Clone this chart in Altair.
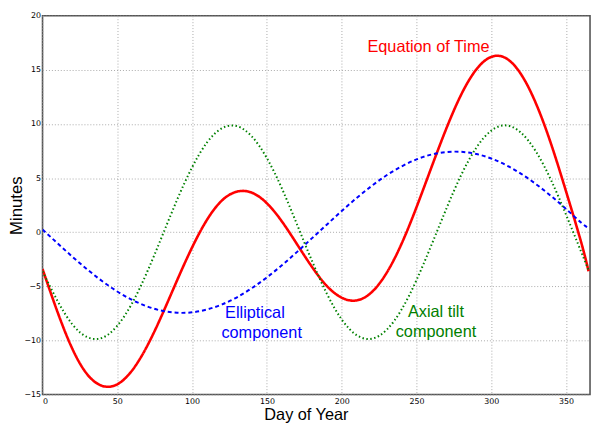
import altair as alt
import pandas as pd

# ---- data ----
days = [0, 10, 20, 30, 40, 50, 60, 70, 80, 90, 100, 110, 120, 130, 140, 150, 160, 170, 180,
        190, 200, 210, 220, 230, 240, 250, 260, 270, 280, 290, 300, 310, 320, 330, 340, 350, 360, 365]

equation_of_time = [-3.4, -7.36, -10.79, -13.15, -14.2, -14.05, -12.75, -10.5, -7.6, -4.43, -1.4, 1.16,
                    2.94, 3.75, 3.65, 2.67, 1.0, -1.08, -3.18, -4.96, -6.05, -6.3, -5.55, -3.76, -1.07,
                    2.31, 6.0, 9.6, 12.75, 15.04, 16.2, 16.06, 14.57, 11.85, 8.14, 3.76, -0.89, -3.6]

elliptical = [0.25, -1.02, -2.27, -3.45, -4.53, -5.48, -6.26, -6.86, -7.26, -7.44, -7.4, -7.14,
              -6.67, -6.01, -5.16, -4.17, -3.05, -1.84, -0.57, 0.7, 1.96, 3.17, 4.27, 5.26, 6.08,
              6.73, 7.18, 7.41, 7.43, 7.23, 6.81, 6.19, 5.39, 4.43, 3.34, 2.15, 0.89, 0.4]

axial_tilt = [-3.6, -6.34, -8.52, -9.7, -9.75, -8.64, -6.53, -3.65, -0.34, 3.01, 6.0, 8.3,
              9.61, 9.8, 8.84, 6.84, 4.05, 0.76, -2.61, -5.66, -8.06, -9.51, -9.84, -9.02, -7.15,
              -4.42, -1.18, 2.19, 5.32, 7.81, 9.39, 9.87, 9.18, 7.42, 4.8, 1.61, -1.78, -3.5]

x_ticks = [0, 50, 100, 150, 200, 250, 300, 350]
y_ticks = [-15, -10, -5, 0, 5, 10, 15, 20]

label_text = ["Equation of Time", "Elliptical", "component", "Axial tilt", "component"]
label_day = [258, 142, 146.5, 263, 263]
label_min = [17.1, -7.5, -9.3, -7.4, -9.2]
label_color = ["#ff0000", "#0000ff", "#0000ff", "#008000", "#008000"]

series = [
    ("Equation of Time", equation_of_time, "#ff0000", 2.6, [1, 0]),
    ("Elliptical component", elliptical, "#0000ff", 2.0, [4, 3]),
    ("Axial tilt component", axial_tilt, "#008000", 2.0, [1.5, 2.5]),
]

PLOT_W = 555
PLOT_H = 384

x_scale = alt.Scale(domain=[0, 366], nice=False, zero=False)
y_scale = alt.Scale(domain=[-15, 20], nice=False, zero=False)

x_axis = alt.Axis(values=x_ticks, title="Day of Year", titleFontSize=16.5, titleFont="Liberation Sans",
                  titleFontWeight="normal", titleColor="black",
                  titleX=267, titleY=25, titleBaseline="alphabetic", titleAlign="center",
                  labelFont="DejaVu Sans", labelFontSize=8, labelColor="black", labelPadding=3,
                  tickSize=0, domain=False, grid=True, gridDash=[1, 2], gridColor="#aaaaaa",
                  gridWidth=1)
y_axis = alt.Axis(values=y_ticks, title="Minutes", titleFontSize=17, titleFont="Liberation Sans",
                  titleFontWeight="normal", titleColor="black",
                  titleX=-34, titleY=PLOT_H / 2, titleAngle=270, titleBaseline="top",
                  titleAlign="center",
                  labelFont="DejaVu Sans", labelFontSize=8, labelColor="black", labelPadding=2,
                  tickSize=0, domain=False, grid=True, gridDash=[1, 2], gridColor="#aaaaaa",
                  gridWidth=1)

enc_x = alt.X("day:Q", scale=x_scale, axis=x_axis)
enc_y = alt.Y("minutes:Q", scale=y_scale, axis=y_axis)

layers = []
for name, vals, color, width, dash in series:
    df = pd.DataFrame({"day": days, "minutes": vals})
    layers.append(alt.Chart(df).mark_line(color=color, strokeWidth=width, interpolate="natural",
                                          strokeDash=dash, clip=True).encode(x=enc_x, y=enc_y))

labels_df = pd.DataFrame({"text": label_text, "day": label_day, "minutes": label_min,
                          "color": label_color})
labels = alt.Chart(labels_df).mark_text(font="Liberation Sans", fontSize=16.5, align="center",
                                        baseline="middle").encode(
    x=enc_x,
    y=enc_y,
    text="text:N",
    color=alt.Color("color:N", scale=None),
)

chart = alt.layer(*layers, labels).properties(
    width=PLOT_W, height=PLOT_H,
    autosize=alt.AutoSizeParams(type="none"),
    padding={"left": 35, "top": 5, "right": 2, "bottom": 30},
    background="white",
).configure_view(stroke="#555555", strokeWidth=1.6)

chart.save("out.html", embed_options={"renderer": "svg", "actions": False})
